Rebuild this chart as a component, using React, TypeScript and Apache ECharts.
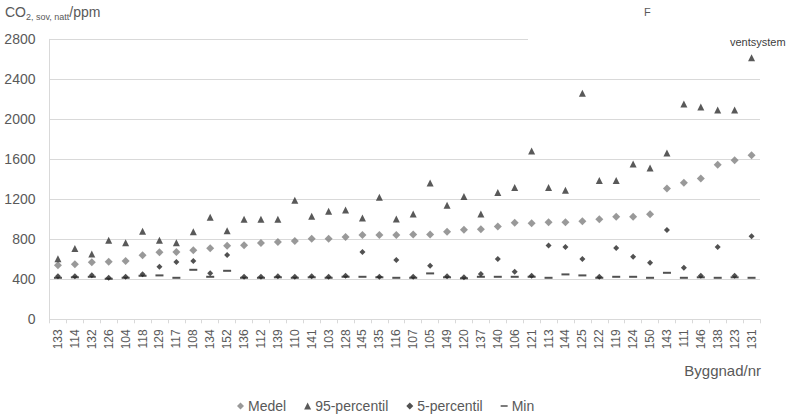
import React, { useEffect, useRef } from "react";
import * as echarts from "echarts";

const categories = ["133","114","132","126","104","118","129","117","108","134","152","136","112","139","110","141","103","128","145","135","116","107","105","149","120","137","140","106","121","113","144","125","122","119","124","150","143","111","146","138","123","131"];
const medel = [540,550,570,575,583,640,670,672,690,710,735,740,762,772,782,805,805,822,842,842,842,848,848,875,895,901,928,965,961,971,971,981,1001,1025,1025,1051,1308,1365,1408,1545,1591,1641];
const p95 = [605,708,652,791,765,880,791,765,875,1020,885,1000,1000,1000,1190,1030,1080,1094,1014,1220,1004,1054,1363,1141,1228,1054,1268,1317,1683,1317,1290,2261,1387,1387,1553,1513,1663,2152,2122,2092,2092,2615];
const p5 = [430,430,440,415,425,450,525,572,582,460,642,425,425,430,425,430,425,435,672,425,592,425,535,430,420,452,602,475,435,738,722,602,425,712,625,565,894,515,435,722,435,830];
const minVals = [415,420,425,405,415,435,439,415,495,425,485,415,415,420,415,420,415,425,425,420,415,415,459,420,410,425,425,425,425,415,449,439,415,425,425,415,465,415,420,415,420,415];
const yTicks = [0, 400, 800, 1200, 1600, 2000, 2400, 2800];

const FONT = "Liberation Sans, Arial, sans-serif";
const TXT = "#595959";

export default function App() {
  const ref = useRef<HTMLDivElement>(null);
  useEffect(() => {
    if (!ref.current) return;
    const chart = echarts.init(ref.current, null, { renderer: "svg" });
    const dashIcon = "path://M0,0L0.01,0M0,3.2L8,3.2L8,4.8L0,4.8ZM8,8L7.99,8";
    chart.setOption({
      animation: false,
      backgroundColor: "#ffffff",
      textStyle: { fontFamily: FONT },
      grid: { left: 49.5, right: 30, top: 39.3, bottom: 97.7, containLabel: false },
      xAxis: {
        type: "category",
        data: categories,
        boundaryGap: true,
        axisLine: { lineStyle: { color: "#d9d9d9" } },
        axisTick: { show: true, length: 4, lineStyle: { color: "#d9d9d9" } },
        axisLabel: { rotate: 90, color: TXT, fontSize: 12, fontFamily: FONT, margin: 10, interval: 0 },
        splitLine: { show: false },
      },
      yAxis: {
        type: "value",
        min: yTicks[0],
        max: yTicks[yTicks.length - 1],
        interval: 400,
        axisLine: { show: true, lineStyle: { color: "#d9d9d9" } },
        axisTick: { show: false },
        axisLabel: { color: TXT, fontSize: 14, fontFamily: FONT, margin: 14, formatter: (v: number) => String(v) },
        splitLine: { lineStyle: { color: "#d9d9d9", width: 1 } },
      },
      legend: {
        left: 237,
        top: 399,
        padding: 0,
        itemGap: 18,
        itemWidth: 7,
        itemHeight: 7,
        textStyle: { color: TXT, fontSize: 14, fontFamily: FONT, padding: [0, 0, 0, -1] },
        data: [
          { name: "Medel", icon: "diamond" },
          { name: "95-percentil", icon: "triangle" },
          { name: "5-percentil", icon: "diamond" },
          { name: "Min", icon: dashIcon },
        ],
      },
      graphic: [
        { type: "rect", shape: { x: 528, y: 30, width: 262, height: 22 }, style: { fill: "#ffffff" }, z: 10 },
        {
          type: "text",
          left: 5,
          top: 5,
          z: 11,
          style: {
            text: "{a|CO}{s|2, sov, natt}{a|/ppm}",
            rich: {
              a: { fontSize: 14, fontFamily: FONT, fill: TXT, color: TXT },
              s: { fontSize: 9, fontFamily: FONT, fill: TXT, color: TXT, padding: [9, 0, 0, 0] },
            },
          },
        },
        { type: "text", left: 644, top: 6, z: 11, style: { text: "F", fontSize: 11, fontFamily: FONT, fill: TXT } },
        { type: "text", left: 730, top: 36, z: 11, style: { text: "ventsystem", fontSize: 11, fontFamily: FONT, fill: "#404040" } },
        { type: "text", right: 29, top: 363, z: 11, style: { text: "Byggnad/nr", fontSize: 15, fontFamily: FONT, fill: TXT } },
      ],
      series: [
        {
          name: "Medel",
          type: "scatter",
          data: medel,
          symbol: "diamond",
          symbolSize: 8,
          itemStyle: { color: "#7f7f7f" },
          z: 2,
        },
        {
          name: "95-percentil",
          type: "scatter",
          data: p95,
          symbol: "triangle",
          symbolSize: 7,
          itemStyle: { color: "#303030" },
          z: 3,
        },
        {
          name: "5-percentil",
          type: "scatter",
          data: p5,
          symbol: "diamond",
          symbolSize: 6,
          itemStyle: { color: "#262626" },
          z: 4,
        },
        {
          name: "Min",
          type: "scatter",
          data: minVals,
          symbol: "rect",
          symbolSize: [8, 2],
          itemStyle: { color: "#262626" },
          z: 4,
        },
      ],
    });
    return () => chart.dispose();
  }, []);
  return <div ref={ref} style={{ width: 790, height: 417, position: "absolute", left: 0, top: 0 }} />;
}
